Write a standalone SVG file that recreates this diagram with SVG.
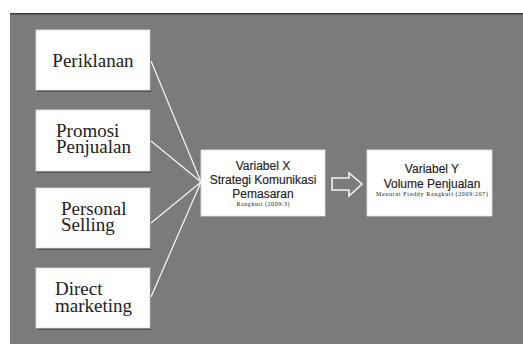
<svg xmlns="http://www.w3.org/2000/svg" width="523" height="344" viewBox="0 0 523 344">
<defs>
<style>
.box{fill:#ffffff;stroke:#e2e2e2;stroke-width:0.8}
.shadow{fill:#555555}
.serif{font-family:"Liberation Serif","Times New Roman",serif;fill:#222}
.sans{font-family:"Liberation Sans",Arial,sans-serif;fill:#222;stroke:#222;stroke-width:0.15}
.conn{stroke:#f2f2f2;stroke-width:1.3;fill:none}
</style>
</defs>
<rect x="0" y="0" width="523" height="344" fill="#ffffff"/>
<rect x="10" y="13" width="513" height="331" fill="#7b7b7b"/>
<rect x="10" y="13" width="513" height="1.5" fill="#3f3f3f"/>

<g id="connectors">
<line class="conn" x1="151" y1="61" x2="201" y2="182"/>
<line class="conn" x1="151" y1="141" x2="201" y2="182"/>
<line class="conn" x1="151" y1="223" x2="201" y2="182"/>
<line class="conn" x1="151" y1="297" x2="201" y2="182"/>
<path d="M332,178 L349,178 L349,173 L362,184 L349,196 L349,190 L332,190 Z" fill="none" stroke="#f2f2f2" stroke-width="1.6"/>
</g>

<g id="periklanan">
<rect class="shadow" x="37" y="31" width="114" height="61"/>
<rect class="box" x="36" y="30" width="114" height="60"/>
<text class="serif" x="93" y="67" font-size="19" text-anchor="middle">Periklanan</text>
</g>

<g id="promosi">
<rect class="shadow" x="37" y="111" width="114" height="62"/>
<rect class="box" x="36" y="110" width="114" height="61"/>
<text class="serif" font-size="19"><tspan x="56" y="137">Promosi</tspan><tspan x="56" y="153">Penjualan</tspan></text>
</g>

<g id="personal">
<rect class="shadow" x="37" y="189" width="114" height="61"/>
<rect class="box" x="36" y="188" width="114" height="60"/>
<text class="serif" font-size="19"><tspan x="61" y="215">Personal</tspan><tspan x="61" y="231">Selling</tspan></text>
</g>

<g id="direct">
<rect class="shadow" x="37" y="269" width="114" height="61"/>
<rect class="box" x="36" y="268" width="114" height="60"/>
<text class="serif" font-size="19"><tspan x="55" y="295">Direct</tspan><tspan x="55" y="312">marketing</tspan></text>
</g>

<g id="variabel-x">
<rect class="box" x="201" y="150" width="124" height="66"/>
<text class="sans" x="263" y="170" font-size="12" text-anchor="middle">Variabel X</text>
<text class="sans" x="263" y="184" font-size="12" text-anchor="middle">Strategi Komunikasi</text>
<text class="sans" x="263" y="198" font-size="12" text-anchor="middle">Pemasaran</text>
<text class="serif" x="263" y="206" font-size="6" text-anchor="middle" fill="#666" textLength="53" lengthAdjust="spacing">Rangkuti (2009:3)</text>
</g>

<g id="variabel-y">
<rect class="box" x="367" y="150" width="125" height="66"/>
<text class="sans" x="432" y="173" font-size="12" text-anchor="middle">Variabel Y</text>
<text class="sans" x="432" y="188" font-size="12" text-anchor="middle">Volume Penjualan</text>
<text class="serif" x="432" y="196" font-size="6" text-anchor="middle" fill="#555" textLength="112" lengthAdjust="spacing">Menurut Freddy Rangkuti (2009:207)</text>
</g>
</svg>
